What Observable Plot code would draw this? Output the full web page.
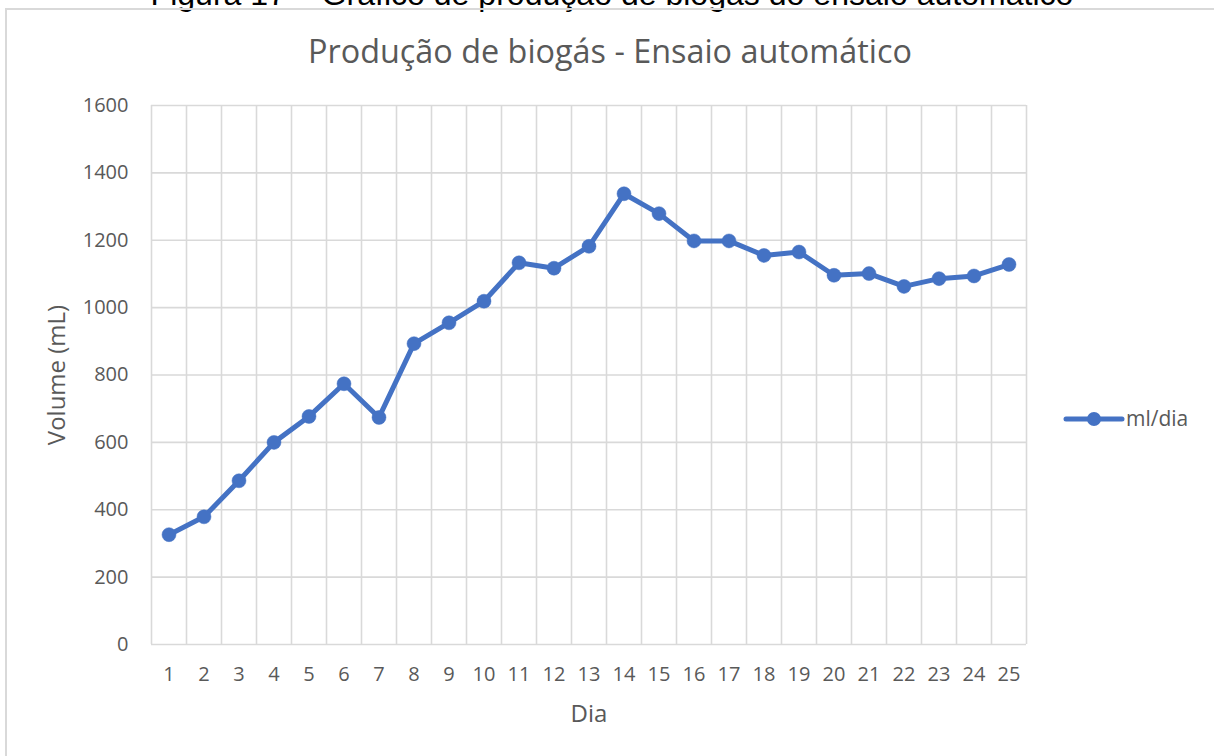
<!DOCTYPE html>
<html>
<head>
<meta charset="utf-8">
<script src="https://cdn.jsdelivr.net/npm/d3@7"></script>
<script src="https://cdn.jsdelivr.net/npm/@observablehq/plot@0.6"></script>
<style>
  html, body { margin: 0; padding: 0; background: #fff; }
  body { width: 1214px; height: 756px; overflow: hidden; position: relative; font-family: "Open Sans", sans-serif; }
  #box { position: absolute; left: 5px; top: 8px; width: 1400px; height: 900px;
         border-left: 2px solid #d9d9d9; border-top: 2px solid #d9d9d9; }
  #chart { position: absolute; left: 0; top: 0; }
  .overlay { position: absolute; left: 0; top: 0; pointer-events: none; }
</style>
</head>
<body>
<svg class="overlay" id="caption" width="1214" height="40"></svg>
<div id="box"></div>
<div id="chart"></div>
<svg class="overlay" id="extra" width="1214" height="756"></svg>
<script>
// ---- data ----
const captionText = "Figura 17 – Gráfico de produção de biogás do ensaio automático";
const titleText = "Produção de biogás - Ensaio automático";
const yLabel = "Volume (mL)";
const xLabel = "Dia";
const seriesName = "ml/dia";
const days = [1,2,3,4,5,6,7,8,9,10,11,12,13,14,15,16,17,18,19,20,21,22,23,24,25];
const volume = [326,379,486,600,677,774,674,893,955,1019,1133,1117,1182,1338,1279,1198,1198,1155,1165,1096,1101,1063,1086,1094,1128];
const yTicks = [0,200,400,600,800,1000,1200,1400,1600];

const blue = "#4472C4";
const grid = "#d9d9d9";
const textGray = "#595959";

const data = days.map((d, i) => ({day: d, v: volume[i]}));
const bounds = [days[0] - 0.5, ...days.map(d => d + 0.5)];

const chart = Plot.plot({
  width: 1214,
  height: 756,
  marginLeft: 151,
  marginRight: 188,
  marginTop: 105,
  marginBottom: 112,
  x: {domain: [days[0] - 0.5, days[days.length - 1] + 0.5]},
  y: {domain: [yTicks[0], yTicks[yTicks.length - 1]]},
  style: {fontFamily: "Open Sans, sans-serif", fontSize: "20px", color: textGray, background: "transparent", overflow: "visible"},
  marks: [
    Plot.ruleY(yTicks, {stroke: grid, strokeWidth: 1.6}),
    Plot.ruleX(bounds, {stroke: grid, strokeWidth: 1.6}),
    Plot.axisX(days, {tickSize: 0, tickPadding: 22, label: null, tickFormat: d => String(d), fill: textGray, fontSize: 20}),
    Plot.axisY(yTicks, {tickSize: 0, tickPadding: 23, label: null, tickFormat: d => String(d), fill: textGray, fontSize: 20}),
    Plot.lineY(data, {x: "day", y: "v", stroke: blue, strokeWidth: 5, strokeLinejoin: "round", strokeLinecap: "round"}),
    Plot.dot(data, {x: "day", y: "v", r: 7, fill: blue, stroke: blue, strokeWidth: 0.5}),
    Plot.text([yLabel], {frameAnchor: "left", dx: -94, rotate: -90, textAnchor: "middle", lineAnchor: "middle", fontSize: 24, fill: textGray}),
    Plot.text([xLabel], {frameAnchor: "bottom", dy: 70, textAnchor: "middle", lineAnchor: "middle", fontSize: 24, fill: textGray})
  ]
});
document.getElementById("chart").appendChild(chart);

// caption (mostly cut off at the top edge)
const cap = d3.select("#caption");
const capT = cap.append("text").attr("x", 612).attr("y", 5).attr("text-anchor", "middle")
  .attr("font-family", "Liberation Sans, Arial, sans-serif").attr("font-size", 28).attr("fill", "#000").text(captionText);
{ const w = capT.node().getComputedTextLength(); capT.attr("font-size", 28 * 923 / w); }

// title and legend
const ex = d3.select("#extra");
const tt = ex.append("text").attr("x", 610).attr("y", 63).attr("text-anchor", "middle")
  .attr("font-family", "Open Sans, sans-serif").attr("font-size", 26).attr("fill", textGray).text(titleText);
{ const w = tt.node().getComputedTextLength(); tt.attr("font-size", 26 * 604 / w); }

ex.append("line").attr("x1", 1066).attr("x2", 1122).attr("y1", 419).attr("y2", 419)
  .attr("stroke", blue).attr("stroke-width", 5).attr("stroke-linecap", "round");
ex.append("circle").attr("cx", 1094).attr("cy", 419).attr("r", 7).attr("fill", blue);
ex.append("text").attr("x", 1126).attr("y", 426).attr("font-family", "Open Sans, sans-serif")
  .attr("font-size", 21).attr("fill", textGray).text(seriesName);
</script>
</body>
</html>
